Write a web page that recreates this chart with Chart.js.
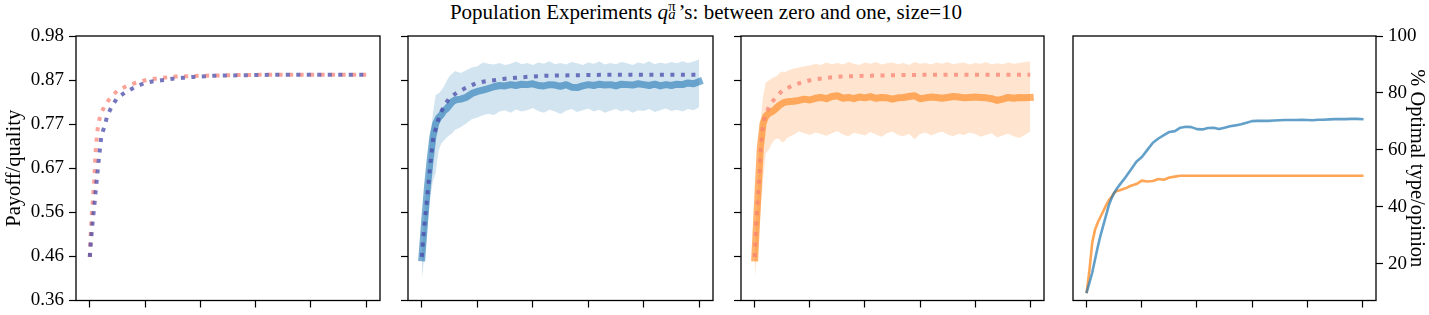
<!DOCTYPE html>
<html><head><meta charset="utf-8">
<script src="https://cdn.jsdelivr.net/npm/chart.js@4"></script>
<style>
html,body{margin:0;padding:0;background:#fff;width:1429px;height:315px;overflow:hidden;position:relative;}
canvas{position:absolute;top:0;}
#title{position:absolute;top:-2px;left:706px;transform:translateX(-50%);white-space:nowrap;font-family:"Liberation Serif","Times New Roman",serif;font-size:21px;color:#000;line-height:24px;}
.ss{display:inline-block;position:relative;width:0.5em;height:1em;}
.ss span{position:absolute;left:0.02em;font-size:0.7em;line-height:1;}
</style></head><body>
<div id="title">Population Experiments <i>q</i><span class="ss"><span style="top:0.06em">π</span><span style="top:0.62em;font-style:italic">a</span></span>’s: between zero and one, size=10</div>
<script>
// ---------- data ----------
const tickX = [0, 20, 40, 60, 80, 100];
const payoffTicks = [0.36, 0.46333, 0.56667, 0.67, 0.77333, 0.87667, 0.98];
const payoffTickLabels = ['0.36', '0.46', '0.56', '0.67', '0.77', '0.87', '0.98'];
const pctTicks = [20, 40, 60, 80, 100];

// dotted reference curves
const salmonX = [0,0.3,0.65,1.2,1.7,2.0,2.6,3.0,3.8,5.3,7.4,10,13.4,17,20.5,25,31,36,42,50,60,70,80,90,100];
const salmonY = [0.462,0.510,0.556,0.605,0.652,0.700,0.748,0.771,0.794,0.816,0.835,0.852,0.863,0.871,0.877,0.881,0.885,0.886,0.887,0.888,0.889,0.889,0.889,0.889,0.889];
const slateX = [0,0.25,0.85,1.6,2.3,3.0,3.8,4.2,5.4,6.3,7.8,9.8,12.8,16,19.5,23,26.7,30,33.8,37.4,45,55,65,80,100];
const slateY = [0.462,0.487,0.533,0.581,0.629,0.675,0.724,0.746,0.770,0.793,0.813,0.834,0.848,0.859,0.869,0.874,0.877,0.880,0.882,0.884,0.887,0.888,0.889,0.889,0.889];

// shared x for experiment runs
const runX = [0,1,2,3,4,5,6,7,8,9,10,11,12,14,16,18,20,22,24,26,28,30,32,34,36,38,40,42,44,46,48,50,52,54,56,58,60,62,64,66,68,70,72,74,76,78,80,82,84,86,88,90,92,94,96,98,100];

const blueMean = [0.46,0.545,0.625,0.690,0.745,0.775,0.788,0.795,0.805,0.810,0.818,0.826,0.830,
  0.832,0.836,0.845,0.850,0.853,0.857,0.861,0.864,0.863,0.866,0.864,0.867,0.866,0.868,0.864,0.863,0.866,0.865,0.862,0.866,0.860,0.859,0.863,0.866,0.864,0.867,0.865,0.866,0.863,0.867,0.866,0.865,0.868,0.866,0.864,0.867,0.863,0.866,0.864,0.867,0.866,0.870,0.868,0.873];
const blueUpper = [0.475,0.57,0.66,0.74,0.80,0.842,0.845,0.852,0.862,0.875,0.886,0.892,0.898,
  0.893,0.900,0.906,0.909,0.918,0.915,0.913,0.917,0.912,0.915,0.920,0.914,0.917,0.912,0.918,0.915,0.921,0.914,0.917,0.913,0.919,0.916,0.912,0.918,0.915,0.920,0.913,0.917,0.914,0.919,0.916,0.912,0.918,0.915,0.921,0.914,0.918,0.915,0.919,0.916,0.921,0.917,0.920,0.925];
const blueLower = [0.41,0.47,0.54,0.60,0.64,0.66,0.71,0.728,0.735,0.742,0.748,0.752,0.760,
  0.766,0.775,0.785,0.789,0.794,0.798,0.795,0.803,0.806,0.800,0.808,0.803,0.806,0.811,0.804,0.800,0.807,0.803,0.797,0.805,0.809,0.802,0.806,0.810,0.803,0.807,0.800,0.805,0.809,0.803,0.807,0.800,0.806,0.804,0.809,0.802,0.806,0.810,0.804,0.807,0.803,0.809,0.806,0.813];

const orangeMean = [0.46,0.59,0.717,0.775,0.792,0.798,0.802,0.806,0.812,0.818,0.822,0.825,0.826,
  0.827,0.829,0.832,0.830,0.834,0.836,0.833,0.838,0.840,0.834,0.836,0.833,0.837,0.835,0.838,0.834,0.836,0.835,0.832,0.835,0.836,0.838,0.840,0.833,0.835,0.837,0.836,0.834,0.836,0.838,0.837,0.835,0.836,0.837,0.836,0.835,0.833,0.829,0.832,0.836,0.834,0.836,0.835,0.836];
const orangeUpper = [0.47,0.62,0.77,0.84,0.871,0.875,0.880,0.884,0.886,0.893,0.897,0.895,0.899,
  0.903,0.906,0.909,0.911,0.915,0.912,0.918,0.914,0.917,0.913,0.919,0.915,0.912,0.918,0.915,0.919,0.913,0.916,0.918,0.914,0.917,0.912,0.919,0.915,0.917,0.913,0.918,0.915,0.919,0.914,0.916,0.918,0.913,0.917,0.915,0.919,0.913,0.916,0.914,0.918,0.915,0.917,0.919,0.920];
const orangeLower = [0.41,0.48,0.56,0.64,0.705,0.712,0.725,0.735,0.74,0.738,0.730,0.735,0.742,
  0.748,0.756,0.752,0.748,0.754,0.750,0.746,0.752,0.757,0.749,0.745,0.753,0.750,0.747,0.755,0.749,0.744,0.752,0.756,0.748,0.745,0.751,0.738,0.750,0.754,0.747,0.752,0.756,0.749,0.745,0.751,0.748,0.754,0.750,0.744,0.748,0.752,0.742,0.747,0.751,0.745,0.741,0.748,0.756];

// % optimal type/opinion
const optBlue = [10.1,13.5,17,21.5,26,30,33.5,37,40.5,43,45,46.5,47.8,
  50.3,53,55.8,57.5,60,62.5,64,65.2,66.3,66.6,67.8,68.1,68,67.3,67.2,67.7,67.8,67.3,67.8,68.3,68.6,69,69.5,70.1,70.2,70.2,70.2,70.3,70.4,70.5,70.5,70.5,70.6,70.5,70.4,70.6,70.6,70.7,70.8,70.8,70.8,70.9,70.9,70.8];
const optOrange = [10.1,18,27.5,32,34.5,36.5,38.5,40.5,42.3,43.5,45,45.6,45.8,
  46.5,47.4,48,49.2,48.9,49.1,49.8,49.5,50.3,50.6,50.9,50.9,50.9,50.9,50.9,50.9,50.9,50.9,50.9,50.9,50.9,50.9,50.9,50.9,50.9,50.9,50.9,50.9,50.9,50.9,50.9,50.9,50.9,50.9,50.9,50.9,50.9,50.9,50.9,50.9,50.9,50.9,50.9,50.9];

// ---------- styling ----------
const FONT = '"Liberation Serif","Times New Roman",serif';
const SALMON_DOT = 'rgba(250,128,114,0.72)';
const SLATE_DOT = 'rgba(72,72,170,0.75)';
const BLUE_LINE = 'rgba(31,119,180,0.6)';
const BLUE_BAND = 'rgba(31,119,180,0.2)';
const ORANGE_LINE = 'rgba(255,127,14,0.6)';
const ORANGE_BAND = 'rgba(255,127,14,0.2)';
const BLUE_OPT = 'rgba(31,119,180,0.7)';
const ORANGE_OPT = 'rgba(255,127,14,0.7)';

const pts = (xs, ys) => xs.map((x, i) => ({x: x, y: ys[i]}));

const framePlugin = {
  id: 'frame',
  afterDraw(chart) {
    const {ctx, chartArea: a} = chart;
    ctx.save();
    ctx.strokeStyle = '#000';
    ctx.lineWidth = 1.3;
    ctx.strokeRect(a.left, a.top, a.right - a.left, a.bottom - a.top);
    ctx.restore();
  }
};

function dotted(xs, ys, color, order) {
  return {data: pts(xs, ys), borderColor: color, borderWidth: 4, borderDash: [4, 6.5],
          borderCapStyle: 'butt', pointRadius: 0, tension: 0, fill: false, order: order};
}
function solid(xs, ys, color, w, order) {
  return {data: pts(xs, ys), borderColor: color, borderWidth: w, borderCapStyle: 'square',
          borderJoinStyle: 'round', pointRadius: 0, tension: 0, fill: false, order: order};
}
function band(xs, ys, color, fill, order) {
  return {data: pts(xs, ys), borderColor: 'transparent', borderWidth: 0, backgroundColor: color,
          pointRadius: 0, tension: 0, fill: fill, order: order};
}

function xScale() {
  return {
    type: 'linear', min: -5, max: 105,
    afterBuildTicks: s => { s.ticks = tickX.map(v => ({value: v})); },
    afterFit: s => { s.height = 10; },
    ticks: {callback: () => '', font: {family: FONT, size: 19, lineHeight: 1}},
    grid: {display: true, drawOnChartArea: false, drawTicks: true, tickLength: 7, tickWidth: 1.2, tickColor: '#000'},
    border: {display: false}
  };
}

function payoffScale(width, showLabels) {
  return {
    type: 'linear', position: 'left', min: 0.36, max: 0.98,
    afterBuildTicks: s => { s.ticks = payoffTicks.map(v => ({value: v})); },
    afterFit: s => { s.width = width; },
    ticks: {color: '#000', padding: 5, font: {family: FONT, size: 19, lineHeight: 1},
            callback: (v, i) => showLabels ? payoffTickLabels[i] : ''},
    grid: {display: true, drawOnChartArea: false, drawTicks: true, tickLength: 7, tickWidth: 1.2, tickColor: '#000'},
    border: {display: false},
    title: {display: showLabels, text: 'Payoff/quality', color: '#000',
            font: {family: FONT, size: 20.5, lineHeight: 1.2}, padding: {top: 2, bottom: 0}}
  };
}

function makeChart(left, width, padL, padR, datasets, yScale) {
  const c = document.createElement('canvas');
  c.width = width; c.height = 315;
  c.style.left = left + 'px';
  c.style.width = width + 'px'; c.style.height = '315px';
  document.body.appendChild(c);
  return new Chart(c, {
    type: 'line',
    data: {datasets: datasets},
    options: {
      responsive: false, animation: false, events: [],
      layout: {padding: {top: 36, left: padL, right: padR, bottom: 0}},
      plugins: {legend: {display: false}, tooltip: {enabled: false}},
      scales: {x: xScale(), y: yScale}
    },
    plugins: [framePlugin]
  });
}

// Panel 1
makeChart(0, 392, 0, 12, [
  dotted(slateX, slateY, SLATE_DOT, 0),
  dotted(salmonX, salmonY, SALMON_DOT, 1)
], payoffScale(76, true));

// Panel 2
makeChart(390, 335, 0, 12, [
  dotted(slateX, slateY, SLATE_DOT, 0),
  solid(runX, blueMean, BLUE_LINE, 7, 1),
  band(runX, blueUpper, BLUE_BAND, '+1', 2),
  band(runX, blueLower, 'transparent', false, 3)
], payoffScale(18, false));

// Panel 3
makeChart(723, 335, 0, 14, [
  dotted(salmonX, salmonY, SALMON_DOT, 0),
  solid(runX, orangeMean, ORANGE_LINE, 7, 1),
  band(runX, orangeUpper, ORANGE_BAND, '+1', 2),
  band(runX, orangeLower, 'transparent', false, 3)
], payoffScale(18, false));

// Panel 4
makeChart(1058, 371, 15, 0, [
  solid(runX, optBlue, BLUE_OPT, 2.6, 0),
  solid(runX, optOrange, ORANGE_OPT, 2.6, 1)
], {
  type: 'linear', position: 'right', min: 7.1, max: 100,
  afterBuildTicks: s => { s.ticks = pctTicks.map(v => ({value: v})); },
  afterFit: s => { s.width = 53; },
  ticks: {color: '#000', padding: 5, font: {family: FONT, size: 19, lineHeight: 1},
          callback: v => String(v)},
  grid: {display: true, drawOnChartArea: false, drawTicks: true, tickLength: 7, tickWidth: 1.2, tickColor: '#000'},
  border: {display: false},
  title: {display: true, text: '% Optimal type/opinion', color: '#000',
          font: {family: FONT, size: 20.5, lineHeight: 1.2}, padding: {top: 0, bottom: 0}}
});
</script>
</body></html>
